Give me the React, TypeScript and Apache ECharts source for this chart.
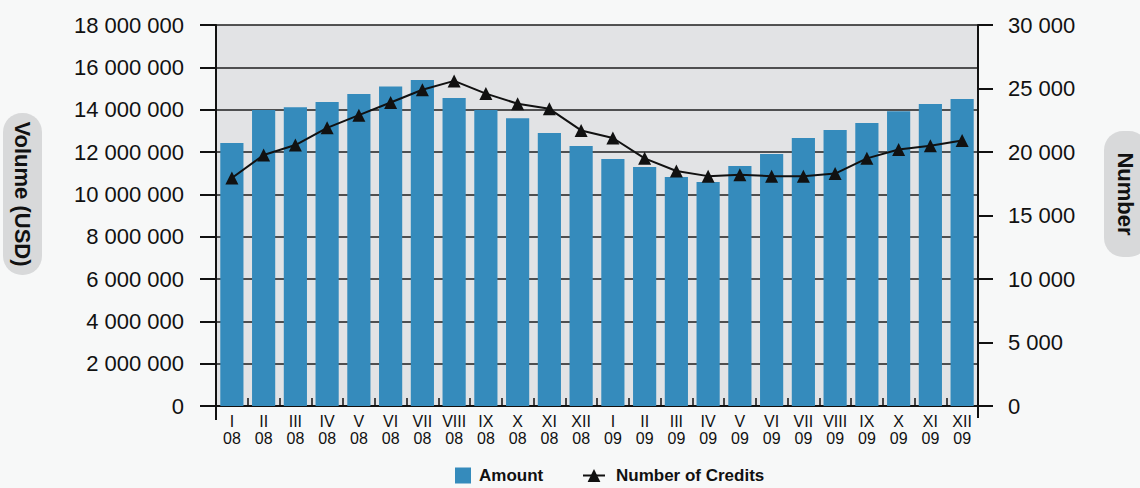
import React, { useEffect, useRef } from "react";
import * as echarts from "echarts";

const months = ["I", "II", "III", "IV", "V", "VI", "VII", "VIII", "IX", "X", "XI", "XII"];
const years = ["08", "09"];
const categories = years.flatMap((y) => months.map((m) => `${m}\n${y}`));

const amounts = [
  12420000, 13980000, 14120000, 14360000, 14740000, 15100000, 15400000, 14550000,
  13980000, 13600000, 12900000, 12280000, 11670000, 11290000, 10820000, 10580000,
  11340000, 11900000, 12660000, 13040000, 13370000, 13930000, 14270000, 14500000,
];

const credits = [
  17950, 19760, 20550, 21900, 22900, 23900, 24900, 25600, 24600, 23800, 23400, 21700,
  21100, 19500, 18500, 18100, 18200, 18100, 18100, 18300, 19500, 20200, 20500, 20900,
];

const leftTicks = { min: 0, max: 18000000, interval: 2000000 };
const rightTicks = { min: 0, max: 30000, interval: 5000 };

const FONT = '"Liberation Sans", Arial, Helvetica, sans-serif';
const fmt = (v: number) => String(Math.round(v)).replace(/\B(?=(\d{3})+(?!\d))/g, " ");

export default function App() {
  const ref = useRef<HTMLDivElement>(null);
  useEffect(() => {
    if (!ref.current) return;
    const chart = echarts.init(ref.current, undefined, { renderer: "svg" });
    const axisLine = { show: true, lineStyle: { color: "#111", width: 2 } };
    chart.setOption({
      animation: false,
      backgroundColor: "#f7f8f8",
      textStyle: { fontFamily: FONT },
      grid: {
        left: 216,
        right: 162,
        top: 25,
        bottom: 82,
        show: true,
        backgroundColor: "#e2e3e5",
        borderWidth: 0,
      },
      legend: [
        {
          data: ["Amount"],
          left: 455,
          top: 467,
          padding: 0,
          itemWidth: 16,
          itemHeight: 16,
          icon: "rect",
          textStyle: { fontFamily: FONT, fontSize: 17, fontWeight: "bold", color: "#111", padding: [0, 0, 0, 3] },
        },
        {
          data: ["Number of Credits"],
          left: 582,
          top: 467,
          padding: 0,
          itemWidth: 22,
          itemHeight: 16,
          textStyle: { fontFamily: FONT, fontSize: 17, fontWeight: "bold", color: "#111", padding: [0, 0, 0, 6] },
        },
      ],
      xAxis: {
        type: "category",
        data: categories,
        boundaryGap: true,
        axisLine,
        axisTick: { show: true, inside: true, length: 8, lineStyle: { color: "#111", width: 1.5 } },
        axisLabel: {
          interval: 0,
          margin: 7,
          color: "#111",
          fontFamily: FONT,
          fontSize: 16,
          lineHeight: 17,
        },
        splitLine: { show: false },
      },
      yAxis: [
        {
          type: "value",
          ...leftTicks,
          position: "left",
          axisLine,
          axisTick: { show: true, length: 16, lineStyle: { color: "#111", width: 2 } },
          axisLabel: { margin: 32, color: "#111", fontFamily: FONT, fontSize: 22, formatter: fmt },
          splitLine: { show: true, lineStyle: { color: "#1e1e1e", width: 1.5 } },
        },
        {
          type: "value",
          ...rightTicks,
          position: "right",
          axisLine,
          axisTick: { show: true, length: 15, lineStyle: { color: "#111", width: 2 } },
          axisLabel: { margin: 30, color: "#111", fontFamily: FONT, fontSize: 22, formatter: fmt },
          splitLine: { show: false },
        },
      ],
      series: [
        {
          name: "Amount",
          type: "bar",
          data: amounts,
          yAxisIndex: 0,
          barCategoryGap: "27%",
          itemStyle: { color: "#358bbc" },
          z: 2,
        },
        {
          name: "Number of Credits",
          type: "line",
          data: credits,
          yAxisIndex: 1,
          symbol: "triangle",
          symbolSize: 13,
          lineStyle: { color: "#111", width: 2 },
          itemStyle: { color: "#111" },
          z: 3,
        },
      ],
      graphic: [
        { type: "line", shape: { x1: 216, y1: 406, x2: 216, y2: 420 }, style: { stroke: "#111", lineWidth: 2 } },
        { type: "line", shape: { x1: 978, y1: 406, x2: 978, y2: 418 }, style: { stroke: "#111", lineWidth: 2 } },
        { type: "rect", shape: { x: 3, y: 113, width: 39, height: 162, r: 19 }, style: { fill: "#d8d9da" } },
        {
          type: "text",
          x: 22,
          y: 194,
          rotation: -Math.PI / 2,
          style: {
            text: "Volume (USD)",
            fontFamily: FONT,
            fontSize: 22,
            fontWeight: "bold",
            fill: "#111",
            align: "center",
            verticalAlign: "middle",
          },
        },
        { type: "rect", shape: { x: 1104, y: 131, width: 44, height: 126, r: 19 }, style: { fill: "#d8d9da" } },
        {
          type: "text",
          x: 1125,
          y: 194,
          rotation: -Math.PI / 2,
          style: {
            text: "Number",
            fontFamily: FONT,
            fontSize: 22,
            fontWeight: "bold",
            fill: "#111",
            align: "center",
            verticalAlign: "middle",
          },
        },
      ],
    });
    return () => chart.dispose();
  }, []);
  return (
    <div
      ref={ref}
      style={{ position: "fixed", left: 0, top: 0, width: 1140, height: 488 }}
    />
  );
}
